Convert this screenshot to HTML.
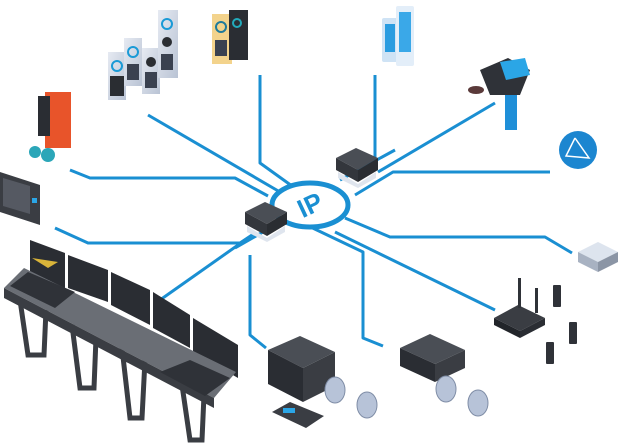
<!DOCTYPE html>
<html><head><meta charset="utf-8"><style>
html,body{margin:0;padding:0;background:#fff;}
svg{display:block;}
</style></head><body>
<svg width="624" height="448" viewBox="0 0 624 448" xmlns="http://www.w3.org/2000/svg">
<defs>
<linearGradient id="lt" x1="0" y1="0" x2="1" y2="1"><stop offset="0" stop-color="#e6eaf2"/><stop offset="1" stop-color="#b9c3d4"/></linearGradient>
</defs>
<g fill="none" stroke="#1a8fd2" stroke-width="3" stroke-linejoin="round">
<polyline points="260,75 260,163 292,186"/>
<polyline points="148,115 280,192"/>
<polyline points="70,170 90,178 235,178 268,196"/>
<polyline points="55,228 88,243 240,243 255,233"/>
<polyline points="160,300 248,238"/>
<polyline points="250,255 250,335 266,348"/>
<polyline points="300,222 363,252 363,338 383,346"/>
<polyline points="375,75 375,165"/>
<polyline points="495,103 378,172"/>
<polyline points="550,172 393,172 355,195"/>
<polyline points="572,253 545,237 390,237 345,218"/>
<polyline points="495,310 335,232"/>
<polyline points="270,228 235,248"/>
<polyline points="340,180 395,150"/>
</g>
<ellipse cx="310" cy="205" rx="38" ry="22" fill="#fff" stroke="#1a8fd2" stroke-width="5"/>
<text x="310" y="214" font-family="Liberation Sans,sans-serif" font-weight="bold" font-size="26" fill="#1a8fd2" text-anchor="middle" transform="rotate(-25 310 205)">IP</text>
<g><polygon points="245,212 265,202 287,212 267,224" fill="#4a4e55"/><polygon points="245,212 267,224 267,236 245,224" fill="#33363c"/><polygon points="267,224 287,212 287,224 267,236" fill="#2a2d32"/><polygon points="247,226 267,238 285,226 285,232 267,242 247,232" fill="#dfe5ee"/></g>
<g><polygon points="336,158 356,148 378,158 358,170" fill="#4a4e55"/><polygon points="336,158 358,170 358,182 336,170" fill="#33363c"/><polygon points="358,170 378,158 378,170 358,182" fill="#2a2d32"/><polygon points="338,172 358,184 376,172 376,178 358,188 338,178" fill="#dfe5ee"/></g>
<g>
<rect x="108" y="52" width="18" height="48" fill="url(#lt)"/><circle cx="117" cy="66" r="5" fill="none" stroke="#1a9ad6" stroke-width="2"/><rect x="110" y="76" width="14" height="20" fill="#2a2d32"/>
<rect x="124" y="38" width="18" height="48" fill="url(#lt)"/><circle cx="133" cy="52" r="5" fill="none" stroke="#1a9ad6" stroke-width="2"/><rect x="127" y="64" width="12" height="16" fill="#3a4150"/>
<rect x="142" y="48" width="18" height="46" fill="url(#lt)"/><circle cx="151" cy="62" r="5" fill="#2a2d32"/><rect x="145" y="72" width="12" height="16" fill="#3a4150"/>
<rect x="158" y="10" width="20" height="68" fill="url(#lt)"/><circle cx="167" cy="24" r="5" fill="none" stroke="#1a9ad6" stroke-width="2"/><circle cx="167" cy="42" r="5" fill="#2a2d32"/><rect x="161" y="54" width="12" height="16" fill="#3a4150"/>
<rect x="212" y="14" width="20" height="50" fill="#f3d38c"/><circle cx="221" cy="27" r="5" fill="none" stroke="#1f7a9a" stroke-width="2"/><rect x="215" y="40" width="12" height="16" fill="#3a4150"/>
<rect x="229" y="10" width="19" height="50" fill="#2a2d33"/><circle cx="237" cy="23" r="4" fill="none" stroke="#2ab" stroke-width="2"/>
</g>
<g><rect x="382" y="18" width="16" height="44" rx="2" fill="#cfe3f5"/><rect x="385" y="24" width="10" height="28" fill="#2a9ce0"/><rect x="396" y="6" width="18" height="60" rx="2" fill="#e3eef9"/><rect x="399" y="12" width="12" height="40" fill="#3aa8e8"/></g>
<g><polygon points="480,70 508,58 530,70 520,95 490,95" fill="#2f3238"/><polygon points="500,62 525,58 530,75 506,80" fill="#2ba6e6"/><ellipse cx="476" cy="90" rx="8" ry="4" fill="#5a3a3a"/><rect x="505" y="95" width="12" height="35" fill="#1f8fd8"/></g>
<circle cx="578" cy="150" r="19" fill="#1c86d0"/><polyline points="575,138 566,156 589,158 575,138" fill="none" stroke="#fff" stroke-width="1.5"/>
<g><polygon points="578,252 598,242 618,252 598,262" fill="#dde4ee"/><polygon points="578,252 598,262 598,272 578,262" fill="#a8b2c2"/><polygon points="598,262 618,252 618,262 598,272" fill="#8b95a5"/></g>
<g><polygon points="494,318 518,305 545,318 520,331" fill="#3a3d43"/><polygon points="494,318 520,331 520,338 494,325" fill="#22252a"/><polygon points="520,331 545,318 545,325 520,338" fill="#2a2d33"/><rect x="518" y="278" width="3" height="30" fill="#2f3238"/><rect x="535" y="288" width="3" height="25" fill="#2f3238"/>
<rect x="553" y="285" width="8" height="22" rx="1" fill="#2f3238"/><rect x="569" y="322" width="8" height="22" rx="1" fill="#2f3238"/><rect x="546" y="342" width="8" height="22" rx="1" fill="#2f3238"/></g>
<g><polygon points="268,350 300,336 335,352 303,368" fill="#4a4e55"/><polygon points="268,350 303,368 303,402 268,384" fill="#2a2d33"/><polygon points="303,368 335,352 335,386 303,402" fill="#3a3d43"/>
<polygon points="272,412 290,402 324,416 306,428" fill="#3a3d43"/><rect x="283" y="408" width="12" height="5" fill="#2ba6e6"/></g>
<g><polygon points="400,348 430,334 465,350 435,364" fill="#4a4e55"/><polygon points="400,348 435,364 435,382 400,366" fill="#2a2d33"/><polygon points="435,364 465,350 465,368 435,382" fill="#3a3d43"/></g>
<g fill="#b7c3d8" stroke="#7f8da6"><ellipse cx="335" cy="390" rx="10" ry="13"/><ellipse cx="367" cy="405" rx="10" ry="13"/><ellipse cx="446" cy="389" rx="10" ry="13"/><ellipse cx="478" cy="403" rx="10" ry="13"/></g>
<g><rect x="45" y="92" width="26" height="56" fill="#e8542a"/><rect x="38" y="96" width="12" height="40" fill="#2a2d33"/><circle cx="35" cy="152" r="6" fill="#2ba6b8"/><circle cx="48" cy="155" r="7" fill="#2ba6b8"/></g>
<g><polygon points="0,172 40,185 40,225 0,212" fill="#3a3d43"/><polygon points="3,178 30,186 30,214 3,206" fill="#555962"/><rect x="32" y="198" width="5" height="5" fill="#2ba6e6"/></g>
<g>
<g stroke="#3a3d43" stroke-width="5" fill="none"><polyline points="20,300 28,355 44,355 46,310"/><polyline points="72,325 80,388 94,388 96,338"/><polyline points="122,348 130,418 142,418 145,360"/><polyline points="182,385 190,440 202,440 204,395"/></g>
<polygon points="30,240 65,253 65,288 30,276" fill="#2a2d33"/>
<polygon points="68,255 108,270 108,302 68,288" fill="#2a2d33"/>
<polygon points="111,272 150,290 150,325 111,305" fill="#2a2d33"/>
<polygon points="153,292 190,315 190,348 153,328" fill="#2a2d33"/>
<polygon points="193,318 238,345 238,378 193,352" fill="#2a2d33"/>
<polygon points="32,258 58,262 48,268" fill="#d9b43a"/>
<polygon points="4,288 24,268 236,372 214,398" fill="#6a6e75"/>
<polygon points="4,288 214,398 214,408 4,298" fill="#3a3d43"/>
<polygon points="10,286 28,272 75,292 55,308" fill="#2f3238"/>
<polygon points="160,372 190,360 230,378 205,396" fill="#2f3238"/>
</g>
</svg>
</body></html>
